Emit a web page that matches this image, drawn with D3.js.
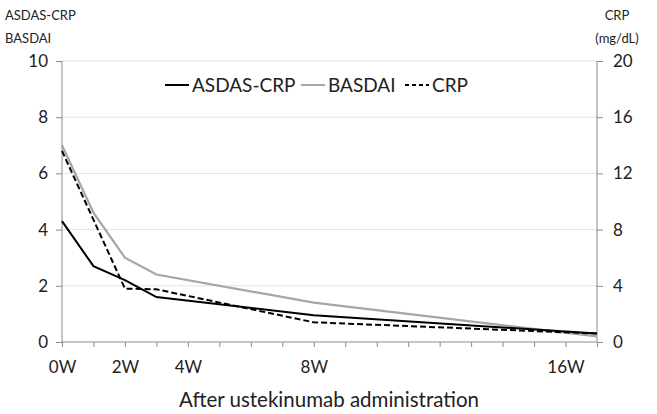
<!DOCTYPE html>
<html>
<head>
<meta charset="utf-8">
<script src="https://cdn.jsdelivr.net/npm/d3@7"></script>
<style>
  html, body { margin: 0; padding: 0; background: #fff; overflow: hidden; }
  svg { display: block; }
</style>
</head>
<body>
<svg id="chart" width="657" height="414" viewBox="0 0 657 414" font-family="Lato, 'Open Sans', sans-serif"></svg>
<script>
// weeks on the category axis (0W .. 17)
const weeks = d3.range(0, 18);
const weekLabels = { 0: '0W', 2: '2W', 4: '4W', 8: '8W', 16: '16W' };

// measured weeks and values
const pointWeeks = [0, 1, 2, 3, 8, 17];
const asdas = [4.3, 2.7, 2.2, 1.6, 0.95, 0.3];
const basdai = [7.0, 4.6, 3.0, 2.4, 1.4, 0.2];
const crp = [13.6, null, 3.8, 3.75, 1.4, 0.6];

const leftTicks = [0, 2, 4, 6, 8, 10];
const rightTicks = [0, 4, 8, 12, 16, 20];

const font = "Lato, 'Open Sans', sans-serif";
const svg = d3.select('#chart');
const margin = { top: 61, right: 60, bottom: 72, left: 62 };
const width = 657, height = 414;
const innerWidth = width - margin.left - margin.right;
const innerHeight = height - margin.top - margin.bottom;

const g = svg.append('g').attr('transform', `translate(${margin.left},${margin.top})`);

const x = d3.scaleLinear().domain([0, 17]).range([0, innerWidth]);
const yL = d3.scaleLinear().domain([0, 10]).range([innerHeight, 0]);
const yR = d3.scaleLinear().domain([0, 20]).range([innerHeight, 0]);

// gridlines
g.append('g')
    .selectAll('line')
    .data(leftTicks.slice(1))
    .enter()
    .append('line')
    .attr('x1', 0).attr('x2', innerWidth)
    .attr('y1', d => yL(d)).attr('y2', d => yL(d))
    .attr('stroke', '#e3e3e3')
    .attr('stroke-width', 1);

const axisColor = '#8c8c8c';
const labelColor = '#222';

// left axis
const gl = g.append('g')
    .call(d3.axisLeft(yL).tickValues(leftTicks).tickSize(6).tickPadding(8).tickFormat(d3.format('d')));
// right axis
const gr = g.append('g')
    .attr('transform', `translate(${innerWidth},0)`)
    .call(d3.axisRight(yR).tickValues(rightTicks).tickSize(6).tickPadding(10).tickFormat(d3.format('d')));
// bottom axis
const gb = g.append('g')
    .attr('transform', `translate(0,${innerHeight})`)
    .call(d3.axisBottom(x).tickValues(weeks).tickSize(5).tickPadding(14)
        .tickFormat(d => weekLabels[d] || ''));

// drop the empty labels of unlabeled weeks
gb.selectAll('.tick text').filter(d => !weekLabels[d]).remove();

[gl, gr, gb].forEach(a => {
    a.attr('font-size', 17).attr('font-family', font);
    a.select('.domain').attr('stroke', axisColor).attr('stroke-width', 1);
    a.selectAll('.tick line').attr('stroke', axisColor);
    a.selectAll('.tick text').attr('fill', labelColor);
});
gl.select('.domain').attr('d', `M0,0V${innerHeight}`);
gr.select('.domain').attr('d', `M0,0V${innerHeight}`);
gb.select('.domain').attr('d', `M0,0H${innerWidth}`);

// lines
function series(vals) {
    return pointWeeks.map((w, i) => ({ w, v: vals[i] })).filter(d => d.v !== null);
}

g.append('path')
    .datum(series(basdai))
    .attr('fill', 'none')
    .attr('stroke', '#a6a6a6')
    .attr('stroke-width', 2.2)
    .attr('d', d3.line().x(d => x(d.w)).y(d => yL(d.v)));

g.append('path')
    .datum(series(crp))
    .attr('fill', 'none')
    .attr('stroke', '#000')
    .attr('stroke-width', 2)
    .attr('stroke-dasharray', '6,3')
    .attr('d', d3.line().x(d => x(d.w)).y(d => yR(d.v)));

g.append('path')
    .datum(series(asdas))
    .attr('fill', 'none')
    .attr('stroke', '#000')
    .attr('stroke-width', 2)
    .attr('d', d3.line().x(d => x(d.w)).y(d => yL(d.v)));

// legend
const legendItems = [
    { name: 'ASDAS-CRP', color: '#000', dash: null, x: 165 },
    { name: 'BASDAI', color: '#a6a6a6', dash: null, x: 301 },
    { name: 'CRP', color: '#000', dash: '4,3', x: 405 }
];
const lg = svg.append('g').attr('font-size', 19);
legendItems.forEach(item => {
    lg.append('line')
        .attr('x1', item.x).attr('x2', item.x + 24)
        .attr('y1', 85).attr('y2', 85)
        .attr('stroke', item.color)
        .attr('stroke-width', 2)
        .attr('stroke-dasharray', item.dash);
    lg.append('text')
        .attr('x', item.x + 27)
        .attr('y', 92)
        .attr('fill', labelColor)
        .text(item.name);
});

// axis titles
const tg = svg.append('g').attr('font-size', 13).attr('fill', labelColor);
tg.append('text').attr('x', 5).attr('y', 20).text('ASDAS-CRP');
tg.append('text').attr('x', 5).attr('y', 43).text('BASDAI');
tg.append('text').attr('x', 617).attr('y', 20).attr('text-anchor', 'middle').text('CRP');
tg.append('text').attr('x', 617).attr('y', 43).attr('text-anchor', 'middle').text('(mg/dL)');

svg.append('text')
    .attr('x', 329)
    .attr('y', 407)
    .attr('text-anchor', 'middle')
    .attr('font-size', 20.5)
    .attr('fill', labelColor)
    .text('After ustekinumab administration');
</script>
</body>
</html>
